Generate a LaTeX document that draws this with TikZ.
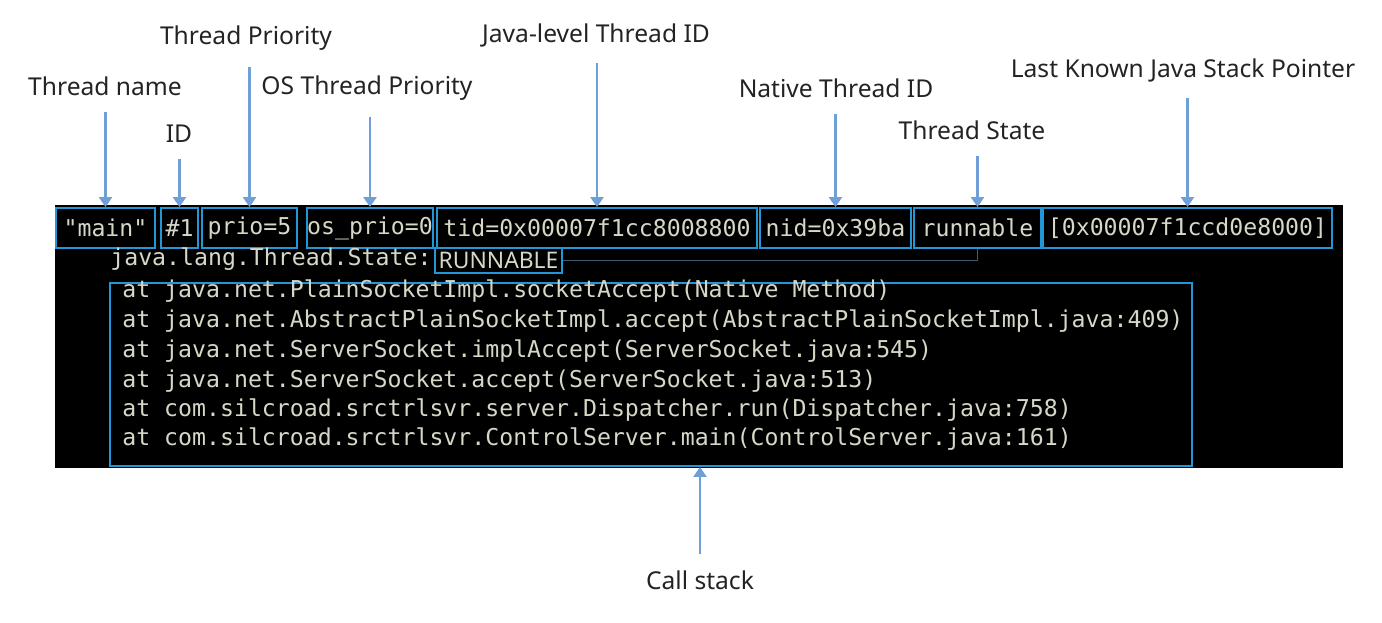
\documentclass[tikz,border=0pt]{standalone}
\usepackage{fontspec}
\usepackage{tikz}
\usetikzlibrary{arrows.meta}
\definecolor{boxblue}{RGB}{35,150,215}
\definecolor{pinblue}{RGB}{110,160,215}
\definecolor{linkgrey}{RGB}{65,90,115}
\definecolor{termtxt}{RGB}{215,215,200}
\definecolor{labtxt}{RGB}{35,35,35}
\newfontfamily\termfont{DejaVu Sans Mono}
\newfontfamily\labfont{Noto Sans}
\newcommand{\tmono}{\termfont\fontsize{13.2}{16}\selectfont}
\newcommand{\tlab}{\labfont\fontsize{14}{17}\selectfont}

\begin{document}
\begin{tikzpicture}[x=0.02cm, y=-0.02cm,
    fld/.style={draw=boxblue, line width=1.1pt, text=termtxt, font=\tmono,
                minimum height=0.8cm, inner sep=0pt},
    lab/.style={text=labtxt, font=\tlab},
    pin/.style={draw=pinblue, line width=1.4pt, shorten <=0.2cm,
                -{Triangle[width=0.26cm,length=0.2cm]}},
    link/.style={draw=linkgrey, line width=1pt},
    line/.style={text=termtxt, font=\tmono, anchor=west, inner sep=0pt}]
  \useasboundingbox (0,0) rectangle (1382,622);
  % terminal
  \fill[black] (55,205) rectangle (1343,468);

  % header fields
  \node[fld, minimum width=1.98cm] (nm)  at (105.5,228) {"main"};
  \node[fld, minimum width=0.74cm] (id)  at (179.5,228) {\#1};
  \node[fld, minimum width=1.90cm] (pr)  at (249.5,228) {prio=5};
  \node[fld, minimum width=2.48cm] (os)  at (370,228)   {os\_prio=0};
  \node[fld, minimum width=6.40cm] (tid) at (597,228)   {tid=0x00007f1cc8008800};
  \node[fld, minimum width=3.02cm] (nid) at (835.5,228) {nid=0x39ba};
  \node[fld, minimum width=2.54cm] (st)  at (977.5,228) {runnable};
  \node[fld, minimum width=5.78cm] (sp)  at (1187.5,228) {[0x00007f1ccd0e8000]};

  % state line
  \node[line] (jl) at (110,259) {java.lang.Thread.State:};
  \node[draw=boxblue, line width=1.1pt, text=termtxt, inner sep=0pt,
        minimum width=2.54cm, minimum height=0.5cm,
        font=\labfont\fontsize{13}{15}\selectfont] (rn) at (498.5,260.5) {RUNNABLE};
  \draw[link] (rn.east) -| (st.south);

  % call stack
  \node[draw=boxblue, line width=1.1pt, minimum width=21.64cm,
        minimum height=3.66cm, inner sep=0pt] (stack) at (651,374.5) {};
  \node[line] (s1) at (122,291) {at java.net.PlainSocketImpl.socketAccept(Native Method)};
  \node[line] (s2) at (122,321) {at java.net.AbstractPlainSocketImpl.accept(AbstractPlainSocketImpl.java:409)};
  \node[line] (s3) at (122,351) {at java.net.ServerSocket.implAccept(ServerSocket.java:545)};
  \node[line] (s4) at (122,381) {at java.net.ServerSocket.accept(ServerSocket.java:513)};
  \node[line] (s5) at (122,410) {at com.silcroad.srctrlsvr.server.Dispatcher.run(Dispatcher.java:758)};
  \node[line] (s6) at (122,439) {at com.silcroad.srctrlsvr.ControlServer.main(ControlServer.java:161)};

  % labels
  \node[lab] (lnm)  at (105,86)   {Thread name};
  \node[lab] (lid)  at (179,134)  {ID};
  \node[lab] (lpr)  at (246,38)   {Thread Priority};
  \node[lab] (los)  at (367,88)   {OS Thread Priority};
  \node[lab] (ltid) at (596,35)   {Java-level Thread ID};
  \node[lab] (lnid) at (836,88)   {Native Thread ID};
  \node[lab] (lst)  at (972,130)  {Thread State};
  \node[lab] (lsp)  at (1183,70)  {Last Known Java Stack Pointer};
  \node[lab] (lcs)  at (700,580)  {Call stack};

  % pointers
  \draw[pin] (nm.north |- lnm.south) -- (nm.north);
  \draw[pin] (id.north |- lid.south) -- (id.north);
  \draw[pin] (pr.north |- lpr.south) -- (pr.north);
  \draw[pin] (os.north |- los.south) -- (os.north);
  \draw[pin] (tid.north |- ltid.south) -- (tid.north);
  \draw[pin] (nid.north |- lnid.south) -- (nid.north);
  \draw[pin] (st.north |- lst.south) -- (st.north);
  \draw[pin] (sp.north |- lsp.south) -- (sp.north);
  \draw[pin] (lcs.north) -- (lcs.north |- stack.south);
\end{tikzpicture}
\end{document}
